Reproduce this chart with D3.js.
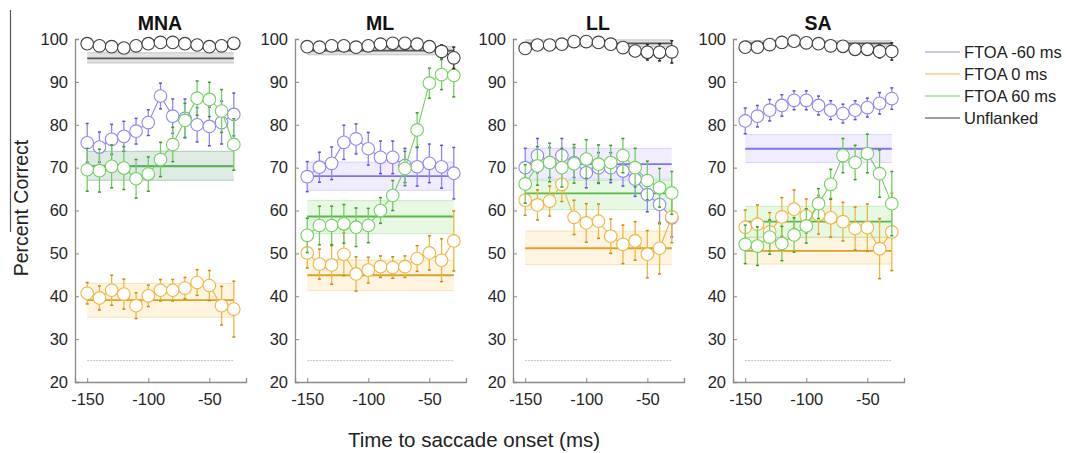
<!DOCTYPE html>
<html>
<head>
<meta charset="utf-8">
<script src="https://cdn.jsdelivr.net/npm/d3@7"></script>
<style>
  html, body { margin: 0; padding: 0; background: #fff; }
  svg { display: block; font-family: "Liberation Sans", Arial, sans-serif; }
</style>
</head>
<body>
<svg id="chart" width="1069" height="453"></svg>
<script>
// Time bins (ms relative to saccade onset)
const times = [-150, -140, -130, -120, -110, -100, -90, -80, -70, -60, -50, -40, -30];
const panelNames = ["MNA", "ML", "LL", "SA"];
const yTicks = [20, 30, 40, 50, 60, 70, 80, 90, 100];
const xTicks = [-150, -100, -50];
const seriesNames = ["FTOA -60 ms", "FTOA 0 ms", "FTOA 60 ms", "Unflanked"];
const chanceLevel = 25;

// Percent correct per time bin, one row per panel (MNA, ML, LL, SA)
const unflanked = [
  [98.9, 98.4, 98.2, 97.9, 98.4, 98.9, 99.2, 99.2, 98.9, 98.6, 98.2, 98.4, 99.0],
  [98.2, 98.1, 98.4, 98.4, 98.1, 98.4, 98.8, 99.0, 99.0, 98.8, 98.2, 97.1, 95.6],
  [97.8, 98.6, 98.6, 98.8, 99.4, 99.4, 99.2, 98.8, 98.0, 97.2, 96.9, 96.9, 97.0],
  [98.1, 98.1, 98.7, 99.2, 99.5, 99.1, 98.9, 98.4, 98.3, 97.6, 97.6, 97.1, 97.1]
];
const unflankedErr = [
  [0.4, 0.4, 0.4, 0.4, 0.4, 0.4, 0.4, 0.4, 0.4, 0.4, 0.4, 0.4, 0.4],
  [0.5, 0.5, 0.5, 0.5, 0.5, 0.5, 0.5, 0.5, 0.5, 0.6, 1.0, 1.5, 2.5],
  [1.0, 0.6, 0.5, 0.5, 0.4, 0.4, 0.4, 0.5, 0.8, 1.3, 1.8, 2.0, 2.6],
  [1.0, 0.8, 0.5, 0.4, 0.4, 0.4, 0.4, 0.5, 0.6, 0.9, 1.0, 1.5, 2.0]
];
const ftoaNeg60 = [
  [75.8, 74.8, 76.6, 77.3, 78.5, 80.5, 86.7, 82.0, 81.5, 80.0, 79.6, 80.5, 82.4],
  [67.9, 70.1, 71.0, 75.9, 76.7, 74.4, 72.4, 72.4, 70.5, 70.2, 71.0, 70.2, 68.7],
  [70.0, 72.8, 71.2, 72.8, 71.2, 68.8, 70.0, 70.0, 69.2, 67.3, 63.7, 61.4, 58.3],
  [80.9, 82.0, 83.4, 84.5, 85.7, 85.7, 84.5, 83.4, 82.6, 83.4, 84.0, 85.0, 86.1]
];
const ftoaNeg60Err = [
  [4.5, 3.5, 3.5, 3.5, 3.0, 3.0, 3.0, 4.0, 4.5, 4.0, 4.5, 5.0, 5.0],
  [3.5, 3.5, 3.8, 4.0, 3.5, 3.8, 3.8, 3.8, 4.0, 4.5, 4.5, 5.0, 6.0],
  [4.5, 4.0, 3.5, 4.0, 3.5, 3.5, 3.5, 3.5, 3.5, 4.0, 4.0, 4.5, 4.5],
  [3.0, 2.5, 2.5, 2.5, 2.2, 2.2, 2.2, 2.2, 2.2, 2.2, 2.2, 2.5, 2.5]
];
const ftoa0 = [
  [40.7, 39.6, 41.4, 40.5, 37.8, 40.1, 41.4, 41.4, 41.9, 43.2, 42.5, 37.8, 37.0],
  [50.1, 47.5, 47.3, 49.8, 45.2, 46.1, 46.9, 46.7, 46.9, 48.8, 50.1, 48.4, 52.9],
  [62.4, 61.3, 62.2, 66.1, 58.4, 57.1, 57.5, 54.0, 52.1, 52.9, 49.8, 51.2, 58.5],
  [56.1, 56.8, 55.0, 58.5, 60.3, 58.7, 59.0, 58.3, 57.4, 55.8, 56.0, 51.1, 55.0]
];
const ftoa0Err = [
  [2.5, 2.8, 3.5, 3.5, 3.0, 2.5, 2.5, 2.5, 2.5, 3.0, 3.5, 4.5, 6.5],
  [3.5, 3.5, 4.5, 5.0, 4.0, 3.0, 2.5, 2.5, 2.5, 3.0, 4.0, 5.0, 7.0],
  [3.5, 3.5, 3.5, 4.0, 4.0, 4.5, 4.0, 4.0, 4.5, 4.5, 5.5, 6.0, 6.0],
  [4.0, 4.5, 4.5, 4.5, 4.5, 4.0, 4.5, 4.5, 4.5, 5.0, 5.5, 7.0, 9.0]
];
const ftoa60 = [
  [69.5, 69.3, 70.3, 69.9, 67.4, 68.5, 71.9, 75.4, 81.0, 86.2, 85.9, 83.2, 75.4],
  [54.2, 56.5, 56.5, 56.9, 56.1, 56.5, 60.0, 63.5, 69.8, 78.8, 89.7, 91.7, 91.5],
  [66.2, 70.4, 71.2, 70.0, 70.9, 72.0, 70.8, 71.2, 72.8, 70.0, 67.0, 65.3, 64.1],
  [52.1, 51.7, 53.8, 52.3, 54.3, 56.4, 61.6, 66.1, 72.8, 71.2, 73.3, 68.6, 61.6]
];
const ftoa60Err = [
  [5.0, 5.0, 5.0, 5.0, 4.5, 4.0, 4.0, 4.0, 4.0, 4.0, 4.0, 5.0, 6.0],
  [4.0, 4.5, 4.5, 4.5, 4.5, 4.0, 3.0, 3.5, 4.0, 4.0, 3.5, 3.5, 5.0],
  [4.5, 4.5, 4.5, 4.5, 4.5, 4.5, 4.5, 4.0, 4.0, 4.5, 4.5, 4.5, 5.0],
  [4.5, 4.5, 4.0, 4.0, 4.0, 4.0, 3.5, 3.5, 4.0, 4.0, 4.5, 5.5, 7.5]
];

// Overall means (horizontal lines) with their confidence bands, per panel
const meanNeg60 = [70.4, 68.0, 70.8, 74.4];
const bandNeg60Lo = [67.1, 64.7, 67.3, 71.2];
const bandNeg60Hi = [73.8, 71.3, 74.5, 77.7];
const mean0 = [39.1, 44.9, 51.2, 50.6];
const band0Lo = [35.1, 41.3, 47.4, 47.5];
const band0Hi = [43.0, 48.4, 55.2, 53.7];
const mean60 = [70.3, 58.6, 64.0, 57.4];
const band60Lo = [67.0, 54.6, 60.2, 53.8];
const band60Hi = [73.8, 62.3, 67.0, 61.0];
const meanUnfl = [95.5, 97.3, 99.0, 99.0];
const bandUnflLo = [94.4, 96.3, 98.2, 98.3];
const bandUnflHi = [96.8, 98.3, 99.8, 99.6];

const styles = {
  neg60: { line: "#8f88f4", mean: "#7d74ee", band: "rgba(190,175,255,0.22)", cap: "#5a50d8" },
  zero:  { line: "#efb640", mean: "#d9a22c", band: "rgba(250,210,120,0.24)", cap: "#c78a10" },
  pos60: { line: "#72d060", mean: "#5cb84a", band: "rgba(160,232,140,0.24)", cap: "#3d9a2a" },
  unfl:  { line: "#404040", mean: "#555555", band: "rgba(160,160,160,0.30)", cap: "#222222" }
};

const series = [
  { key: "neg60", vals: ftoaNeg60, err: ftoaNeg60Err, mean: meanNeg60, lo: bandNeg60Lo, hi: bandNeg60Hi },
  { key: "zero",  vals: ftoa0,     err: ftoa0Err,     mean: mean0,     lo: band0Lo,     hi: band0Hi },
  { key: "pos60", vals: ftoa60,    err: ftoa60Err,    mean: mean60,    lo: band60Lo,    hi: band60Hi },
  { key: "unfl",  vals: unflanked, err: unflankedErr, mean: meanUnfl,  lo: bandUnflLo,  hi: bandUnflHi }
];

const svg = d3.select("#chart");
const panelLeft = [75, 295, 513, 733];
const panelWidth = 171;
const yTop = 39, yBottom = 382;
const fontFamily = "'Liberation Sans', Arial, sans-serif";

const y = d3.scaleLinear().domain([20, 100]).range([yBottom, yTop]);

// stray rule at far left
svg.append("line").attr("x1", 10.5).attr("x2", 10.5).attr("y1", 10).attr("y2", 232)
  .attr("stroke", "#555").attr("stroke-width", 1.2);

panelNames.forEach((name, p) => {
  const x = d3.scaleLinear().domain([-160, -20]).range([panelLeft[p], panelLeft[p] + panelWidth]);
  const g = svg.append("g");

  // axes (ticks point inward)
  const yAxis = d3.axisLeft(y).tickValues(yTicks).tickSize(-4).tickPadding(7);
  const gy = g.append("g").attr("transform", `translate(${panelLeft[p]},0)`).call(yAxis);
  const xAxis = d3.axisBottom(x).tickValues(xTicks).tickSize(-4).tickPadding(11).tickFormat(d => String(d));
  const gx = g.append("g").attr("transform", `translate(0,${yBottom})`).call(xAxis);
  [gx, gy].forEach(a => {
    a.select(".domain").attr("stroke", "#8a8a8a").attr("stroke-width", 1.3);
    a.selectAll(".tick line").attr("stroke", "#8a8a8a");
    a.selectAll(".tick text").attr("fill", "#262626").style("font-size", "16.5px")
      .style("font-family", fontFamily);
  });

  // title
  g.append("text").attr("x", panelLeft[p] + 85).attr("y", 30)
    .attr("text-anchor", "middle").attr("font-weight", "bold")
    .style("font-size", "19.5px").attr("fill", "#111").text(name);

  // chance line
  g.append("line").attr("x1", x(-150)).attr("x2", x(-30))
    .attr("y1", y(chanceLevel)).attr("y2", y(chanceLevel))
    .attr("stroke", "#c4c4c4").attr("stroke-width", 1).attr("stroke-dasharray", "2,1");

  // bands and mean lines
  series.forEach(s => {
    const st = styles[s.key];
    g.append("rect").attr("x", x(-150)).attr("width", x(-30) - x(-150))
      .attr("y", y(s.hi[p])).attr("height", y(s.lo[p]) - y(s.hi[p]))
      .attr("fill", st.band);
    [s.lo[p], s.hi[p]].forEach(v => {
      g.append("line").attr("x1", x(-150)).attr("x2", x(-30))
        .attr("y1", y(v)).attr("y2", y(v))
        .attr("stroke", st.mean).attr("stroke-opacity", 0.25).attr("stroke-width", 1);
    });
    g.append("line").attr("x1", x(-150)).attr("x2", x(-30))
      .attr("y1", y(s.mean[p])).attr("y2", y(s.mean[p]))
      .attr("stroke", st.mean).attr("stroke-width", 1.8);
  });

  // time courses with error bars and open circles
  const line = d3.line().x((d, i) => x(times[i])).y(d => y(d));
  series.forEach(s => {
    const st = styles[s.key];
    const vals = s.vals[p], errs = s.err[p];
    const sg = g.append("g");
    times.forEach((t, i) => {
      const x0 = x(t);
      sg.append("line").attr("x1", x0).attr("x2", x0)
        .attr("y1", y(Math.min(100, vals[i] + errs[i]))).attr("y2", y(vals[i] - errs[i]))
        .attr("stroke", st.line).attr("stroke-width", 1.3);
      [vals[i] + errs[i], vals[i] - errs[i]].forEach(v => {
        sg.append("line").attr("x1", x0 - 1.5).attr("x2", x0 + 1.5)
          .attr("y1", y(Math.min(100, v))).attr("y2", y(Math.min(100, v)))
          .attr("stroke", st.cap).attr("stroke-width", 1.5);
      });
    });
    sg.append("path").datum(vals).attr("d", line)
      .attr("fill", "none").attr("stroke", st.line).attr("stroke-width", 1.1);
    sg.selectAll("circle").data(vals).join("circle")
      .attr("cx", (d, i) => x(times[i])).attr("cy", d => y(d)).attr("r", 6.3)
      .attr("fill", "#fff").attr("stroke", st.line).attr("stroke-width", 1.1);
  });
});

// axis titles
svg.append("text").attr("x", 474).attr("y", 447).attr("text-anchor", "middle")
  .style("font-size", "20.5px").attr("fill", "#222").text("Time to saccade onset (ms)");
svg.append("text").attr("transform", "translate(28,208) rotate(-90)").attr("text-anchor", "middle")
  .style("font-size", "19.5px").attr("fill", "#222").text("Percent Correct");

// legend
const legend = svg.append("g");
["neg60", "zero", "pos60", "unfl"].forEach((k, i) => {
  const ly = 52 + i * 22;
  legend.append("line").attr("x1", 925).attr("x2", 960).attr("y1", ly).attr("y2", ly)
    .attr("stroke", styles[k].line).attr("stroke-width", 1.2);
  legend.append("text").attr("x", 964).attr("y", ly + 6)
    .style("font-size", "16.5px").attr("fill", "#222").text(seriesNames[i]);
});
</script>
</body>
</html>
